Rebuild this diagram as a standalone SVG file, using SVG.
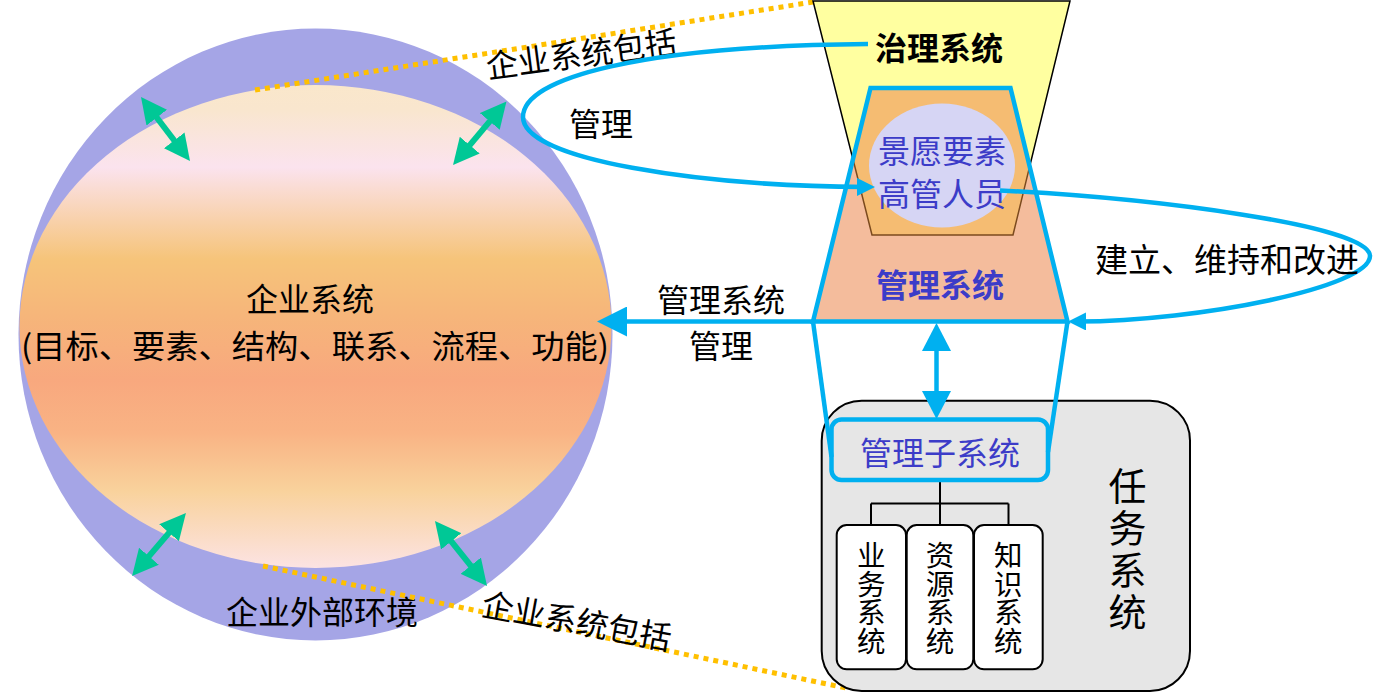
<svg xmlns="http://www.w3.org/2000/svg" width="1379" height="693" viewBox="0 0 1379 693">
<style>
text{font-family:"Noto Sans CJK SC","Noto Sans",sans-serif;text-anchor:middle;dominant-baseline:central}
.t32{font-size:32px;fill:#000}
.blue{fill:#3C3CC8}
.b{font-weight:700}
.v{font-size:28.5px;fill:#000;writing-mode:vertical-rl}
.blk{stroke:#000;stroke-width:2;fill:none}
.conn{fill:none;stroke:#00B0F0;stroke-width:4.5}
.grn{stroke:#00C896;stroke-width:6;fill:none;marker-start:url(#gh);marker-end:url(#gh)}
.dot{stroke:#FFC000;stroke-width:5;stroke-dasharray:5 5;fill:none}
</style>
<defs>
<linearGradient id="ent" x1="0" y1="0" x2="0" y2="1">
<stop offset="0" stop-color="#FAE7CB"/>
<stop offset="0.05" stop-color="#F9E6CE"/>
<stop offset="0.17" stop-color="#FBE3EE"/>
<stop offset="0.36" stop-color="#F6C47A"/>
<stop offset="0.48" stop-color="#F6B57A"/>
<stop offset="0.61" stop-color="#F8A87E"/>
<stop offset="0.72" stop-color="#F9B384"/>
<stop offset="0.84" stop-color="#F9D29C"/>
<stop offset="1" stop-color="#FCE3E3"/>
</linearGradient>
<marker id="gh" markerUnits="userSpaceOnUse" markerWidth="26" markerHeight="26" viewBox="0 0 26 26" refX="13" refY="13" orient="auto-start-reverse"><path d="M0,0 L26,13 L0,26 z" fill="#00C896"/></marker>
<marker id="bhb" markerUnits="userSpaceOnUse" markerWidth="30" markerHeight="30" viewBox="0 0 30 30" refX="15" refY="15" orient="auto"><path d="M0,0 L30,15 L0,30 z" fill="#00B0F0"/></marker>
<marker id="bhv" markerUnits="userSpaceOnUse" markerWidth="28" markerHeight="29" viewBox="0 0 28 29" refX="14" refY="14.5" orient="auto-start-reverse"><path d="M0,0 L28,14.5 L0,29 z" fill="#00B0F0"/></marker>
<marker id="bhs" markerUnits="userSpaceOnUse" markerWidth="18" markerHeight="18" viewBox="0 0 18 18" refX="9" refY="9" orient="auto"><path d="M0,0 L18,9 L0,18 z" fill="#00B0F0"/></marker>
</defs>

<g id="enterprise">
<ellipse cx="315.5" cy="334.5" rx="297" ry="306" fill="#A5A5E6"/>
<ellipse cx="315.5" cy="326.5" rx="296" ry="241.5" fill="url(#ent)"/>
<text class="t32" x="310" y="297">企业系统</text>
<text class="t32" x="315" y="344" textLength="588" lengthAdjust="spacingAndGlyphs">(目标、要素、结构、联系、流程、功能)</text>
<text class="t32" x="322" y="610">企业外部环境</text>
</g>

<g id="env-arrows">
<line class="grn" x1="148.9" y1="107.3" x2="182.1" y2="150.7"/>
<line class="grn" x1="498.1" y1="111.4" x2="461.4" y2="155.1"/>
<line class="grn" x1="177.5" y1="522.9" x2="140.5" y2="566.1"/>
<line class="grn" x1="443.1" y1="531.2" x2="478.9" y2="575.8"/>
</g>

<g id="include-lines">
<line class="dot" x1="255" y1="90" x2="813" y2="2"/>
<line class="dot" x1="263" y1="566" x2="846" y2="688"/>
<text class="t32" transform="translate(581,52) rotate(-7.5)">企业系统包括</text>
<text class="t32" transform="translate(577,619) rotate(10.5)">企业系统包括</text>
</g>

<g id="governance">
<polygon points="813,1 1070,1 1013,235 872,235" fill="#FFFFA0" stroke="#000" stroke-width="1.5"/>
<text class="t32 b" x="939" y="46">治理系统</text>
</g>

<g id="management">
<polygon points="870.5,88 1010.5,88 1067.5,321.5 813,321.5" fill="#F4BC9C"/>
<polygon points="870.5,88 1010.5,88 1029.6,166.6 1013,235 872,235 852.8,158.4" fill="#F5BC72" stroke="#7B4A1E" stroke-width="1.5"/>
<polygon points="870.5,88 1010.5,88 1067.5,321.5 813,321.5" fill="none" stroke="#00B0F0" stroke-width="4.5"/>
<text class="t32 blue b" x="940" y="283">管理系统</text>
</g>

<g id="vision">
<ellipse cx="942" cy="165.5" rx="73" ry="62" fill="#D6D5F4"/>
<text class="t32 blue" x="942" y="149">景愿要素</text>
<text class="t32 blue" x="942" y="192">高管人员</text>
</g>

<g id="task-system">
<rect x="821.7" y="400.7" width="368.3" height="290.3" rx="40" fill="#E6E6E6" stroke="#000" stroke-width="2"/>
<text x="1127.5" y="551" style="font-size:38px;writing-mode:vertical-rl;letter-spacing:4px">任务系统</text>
<path class="blk" d="M940,480 V503.5 M871,503.5 H1008.5 M871,503.5 V525 M940,503.5 V525 M1008.5,503.5 V525"/>
</g>

<g id="mgmt-sub">
<rect x="831.5" y="419.5" width="216.5" height="60.5" rx="10" fill="#E6E6E6" stroke="#00B0F0" stroke-width="4.5"/>
<text class="t32 blue" x="940" y="451">管理子系统</text>
</g>

<g id="business">
<rect x="836.7" y="525" width="69.3" height="144.3" rx="10" fill="#fff" stroke="#000" stroke-width="2"/>
<text class="v" x="871.3" y="598">业务系统</text>
</g>
<g id="resource">
<rect x="906.7" y="525" width="66.6" height="144.3" rx="10" fill="#fff" stroke="#000" stroke-width="2"/>
<text class="v" x="940" y="598">资源系统</text>
</g>
<g id="knowledge">
<rect x="974" y="525" width="68.7" height="144.3" rx="10" fill="#fff" stroke="#000" stroke-width="2"/>
<text class="v" x="1008.3" y="598">知识系统</text>
</g>

<g id="connectors">
<path class="conn" d="M868,44 C640,46 523,78 523,117 C523,160 700,186 866,187" marker-end="url(#bhs)"/>
<path class="conn" d="M1000,190.5 C1150,198 1370,225 1370,256 C1370,287 1200,321 1077,321.5" marker-end="url(#bhs)"/>
<line class="conn" x1="813" y1="321.5" x2="612" y2="321.5" marker-end="url(#bhb)"/>
<line class="conn" x1="936.5" y1="337" x2="936.5" y2="405" marker-start="url(#bhv)" marker-end="url(#bhv)"/>
<line class="conn" x1="813" y1="321.5" x2="831.5" y2="457"/>
<line class="conn" x1="1067.5" y1="321.5" x2="1048" y2="452"/>
<text class="t32" x="601" y="122">管理</text>
<text class="t32" x="1227" y="258" style="font-size:33px">建立、维持和改进</text>
<text class="t32" x="721" y="297.5">管理系统</text>
<text class="t32" x="721" y="344">管理</text>
</g>
</svg>
